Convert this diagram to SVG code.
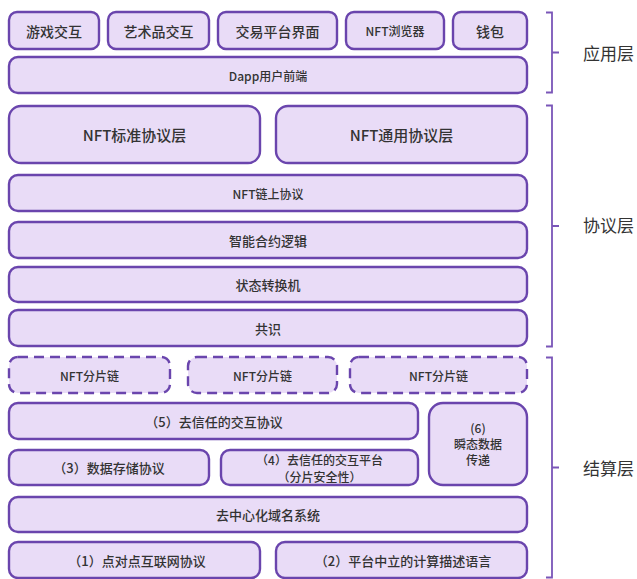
<svg xmlns="http://www.w3.org/2000/svg" width="637" height="579" viewBox="0 0 637 579">
<style>
.b{fill:#e9dcf7;stroke:#6a45ad;stroke-width:2.4}
.d{fill:#e9dcf7;stroke:#6a45ad;stroke-width:2.4;stroke-dasharray:10 6}
.t{font-family:"Noto Sans CJK SC","Noto Sans",sans-serif;fill:#333;text-anchor:middle;dominant-baseline:central;font-size:13px;font-weight:500}
.s{font-size:12px}
.m{font-size:14px}
.l{font-size:15px}
.x{font-size:12px}
.r{font-family:"Noto Sans CJK SC","Noto Sans",sans-serif;fill:#333;font-size:17px;dominant-baseline:central}
.br{fill:none;stroke:#7a56b8;stroke-width:1.8}
</style>
<rect width="637" height="579" fill="#fff"/>
<g id="app-layer">
<g id="n-game"><rect class="b" x="9" y="12" width="90" height="37" rx="8"/><text class="t m" x="54" y="30.5">游戏交互</text></g>
<g id="n-art"><rect class="b" x="108" y="12" width="101" height="37" rx="8"/><text class="t m" x="158.5" y="30.5">艺术品交互</text></g>
<g id="n-trade"><rect class="b" x="218" y="12" width="119" height="37" rx="8"/><text class="t m" x="277.5" y="30.5">交易平台界面</text></g>
<g id="n-browser"><rect class="b" x="346" y="12" width="98" height="37" rx="8"/><text class="t s" x="395" y="30.5">NFT浏览器</text></g>
<g id="n-wallet"><rect class="b" x="453" y="12" width="74" height="37" rx="8"/><text class="t m" x="490" y="30.5">钱包</text></g>
<g id="n-dapp"><rect class="b" x="9" y="57" width="518" height="36" rx="9"/><text class="t s" x="268" y="75">Dapp用户前端</text></g>
</g>
<g id="protocol-layer">
<g id="n-std"><rect class="b" x="9" y="106" width="251" height="57" rx="12"/><text class="t l" x="134.5" y="134.5">NFT标准协议层</text></g>
<g id="n-gen"><rect class="b" x="276" y="106" width="251" height="57" rx="12"/><text class="t l" x="401.5" y="134.5">NFT通用协议层</text></g>
<g id="n-onchain"><rect class="b" x="9" y="175" width="518" height="36" rx="9"/><text class="t s" x="268" y="193">NFT链上协议</text></g>
<g id="n-contract"><rect class="b" x="9" y="222" width="518" height="36" rx="9"/><text class="t" x="268" y="240">智能合约逻辑</text></g>
<g id="n-state"><rect class="b" x="9" y="267" width="518" height="35" rx="9"/><text class="t" x="268" y="284.5">状态转换机</text></g>
<g id="n-consensus"><rect class="b" x="9" y="310" width="518" height="36" rx="9"/><text class="t" x="268" y="328">共识</text></g>
</g>
<g id="settle-layer">
<g id="n-shard1"><rect class="d" x="9" y="357" width="161" height="36" rx="9"/><text class="t s" x="89.5" y="375">NFT分片链</text></g>
<g id="n-shard2"><rect class="d" x="188" y="357" width="149" height="36" rx="9"/><text class="t s" x="262.5" y="375">NFT分片链</text></g>
<g id="n-shard3"><rect class="d" x="350" y="357" width="177" height="36" rx="9"/><text class="t s" x="438.5" y="375">NFT分片链</text></g>
<g id="n-5"><rect class="b" x="9" y="403" width="409" height="36" rx="9"/><text class="t" x="214" y="421">（5）去信任的交互协议</text></g>
<g id="n-6"><rect class="b" x="429" y="403" width="98" height="82" rx="14"/><text class="t x" x="478" y="427">(6)</text><text class="t x" x="478" y="443">瞬态数据</text><text class="t x" x="478" y="459">传递</text></g>
<g id="n-3"><rect class="b" x="9" y="450" width="200" height="35" rx="9"/><text class="t" x="109" y="467.5">（3）数据存储协议</text></g>
<g id="n-4"><rect class="b" x="221" y="450" width="197" height="35" rx="9"/><text class="t x" x="319.5" y="459.5">（4）去信任的交互平台</text><text class="t x" x="319.5" y="476">（分片安全性）</text></g>
<g id="n-dns"><rect class="b" x="9" y="497" width="518" height="35" rx="9"/><text class="t" x="268" y="514.5">去中心化域名系统</text></g>
<g id="n-1"><rect class="b" x="9" y="542" width="251" height="36" rx="9"/><text class="t" x="137" y="560">（1）点对点互联网协议</text></g>
<g id="n-2"><rect class="b" x="276" y="542" width="251" height="36" rx="9"/><text class="t" x="403" y="560">（2）平台中立的计算描述语言</text></g>
</g>
<g id="connectors">
<path class="br" d="M546,12.5 H552 V92.5 H546 M552,52.5 H559"/>
<path class="br" d="M546,105.5 H552 V346.5 H546 M552,226 H559"/>
<path class="br" d="M546,357.5 H552 V577.5 H546 M552,467.5 H559"/>
</g>
<g id="labels">
<text class="r" x="583" y="52">应用层</text>
<text class="r" x="583" y="224">协议层</text>
<text class="r" x="583" y="467">结算层</text>
</g>
</svg>
